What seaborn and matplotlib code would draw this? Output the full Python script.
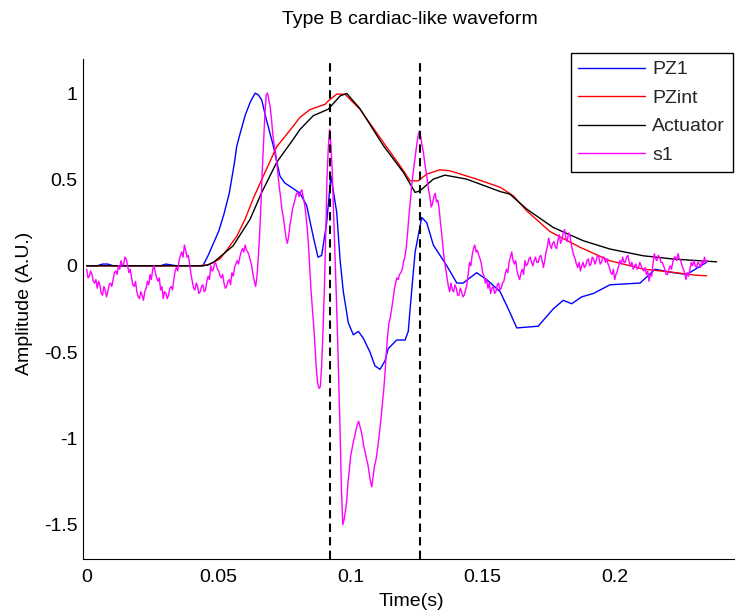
import numpy as np
import pandas as pd
import matplotlib
matplotlib.use("Agg")
import matplotlib.pyplot as plt
import seaborn as sns

# ---------------- data ----------------
pz1_t = [0.000, 0.004, 0.006, 0.008, 0.010, 0.020, 0.028, 0.030, 0.032, 0.034, 0.044,
         0.046, 0.048, 0.050, 0.052, 0.054, 0.056, 0.0568, 0.058, 0.060, 0.062, 0.0638,
         0.065, 0.0663, 0.068, 0.0706, 0.0732, 0.075, 0.077, 0.0808, 0.0833, 0.0858,
         0.0876, 0.089, 0.0909, 0.0925, 0.0947, 0.096, 0.0972, 0.0991, 0.101, 0.1029,
         0.1048, 0.1073, 0.1092, 0.1111, 0.113, 0.1142, 0.1174, 0.1206, 0.1218, 0.1225,
         0.1244, 0.1269, 0.1288, 0.1313, 0.1364, 0.1402, 0.1426, 0.1477, 0.1515, 0.1566,
         0.1603, 0.1629, 0.171, 0.1767, 0.1805, 0.1837, 0.1875, 0.192, 0.1982, 0.2096,
         0.2153, 0.2222, 0.2273, 0.2348]
pz1_v = [0.0, 0.0, 0.01, 0.01, 0.0, 0.0, 0.0, 0.01, 0.005, 0.0, 0.0,
         0.06, 0.13, 0.20, 0.30, 0.42, 0.60, 0.69, 0.76, 0.87, 0.95, 1.0,
         0.99, 0.96, 0.85, 0.70, 0.52, 0.48, 0.46, 0.42, 0.35, 0.17,
         0.05, 0.06, 0.25, 0.52, 0.31, 0.03, -0.15, -0.33, -0.40, -0.38,
         -0.42, -0.50, -0.58, -0.60, -0.55, -0.48, -0.43, -0.43, -0.38, -0.25,
         0.08, 0.28, 0.25, 0.12, 0.0, -0.10, -0.10, -0.04, -0.08, -0.15,
         -0.27, -0.36, -0.35, -0.25, -0.20, -0.22, -0.18, -0.16, -0.11, -0.10,
         -0.02, -0.04, -0.05, 0.02]

pzint_t = [0.000, 0.042, 0.0457, 0.048, 0.0505, 0.0535, 0.0568, 0.060, 0.0631, 0.0669,
           0.072, 0.0783, 0.0808, 0.0846, 0.0903, 0.0915, 0.0947, 0.0978, 0.1035, 0.1124,
           0.1187, 0.1225, 0.1256, 0.1288, 0.1338, 0.1376, 0.1477, 0.1566, 0.1616, 0.1667,
           0.1755, 0.1869, 0.1982, 0.2108, 0.2222, 0.2304, 0.2348]
pzint_v = [0.0, 0.0, 0.005, 0.02, 0.04, 0.10, 0.17, 0.27, 0.39, 0.52,
           0.69, 0.81, 0.86, 0.905, 0.935, 0.955, 0.994, 0.994, 0.907, 0.714,
           0.579, 0.492, 0.492, 0.531, 0.556, 0.55, 0.502, 0.455, 0.405, 0.318,
           0.198, 0.107, 0.029, -0.019, -0.038, -0.054, -0.058]

act_t = [0.000, 0.044, 0.046, 0.048, 0.0555, 0.0619, 0.0663, 0.072, 0.0783, 0.0808,
         0.0858, 0.0915, 0.096, 0.0985, 0.1035, 0.1124, 0.120, 0.1244, 0.1262, 0.1313,
         0.1357, 0.1439, 0.1566, 0.1603, 0.1667, 0.1767, 0.1881, 0.1982, 0.2108, 0.2222,
         0.2386]
act_v = [0.0, 0.0, 0.005, 0.02, 0.116, 0.27, 0.425, 0.60, 0.734, 0.79,
         0.869, 0.907, 0.984, 0.998, 0.91, 0.695, 0.54, 0.425, 0.434, 0.502,
         0.525, 0.502, 0.43, 0.415, 0.328, 0.222, 0.145, 0.097, 0.058, 0.039,
         0.023]

# s1 sampled every 0.5 ms from 0 to 0.235 s
s1_v = [-0.02, -0.07, -0.06, -0.03, -0.05, -0.09, -0.10, -0.08, -0.13, -0.09,
        -0.11, -0.16, -0.17, -0.12, -0.14, -0.18, -0.15, -0.11, -0.10, -0.12,
        -0.08, -0.04, -0.03, -0.05, 0.00, -0.02, 0.03, 0.00, 0.01, 0.05,
        0.04, 0.00, -0.04, -0.02, -0.07, -0.11, -0.12, -0.09, -0.15, -0.18,
        -0.19, -0.15, -0.17, -0.20, -0.15, -0.13, -0.09, -0.11, -0.05, -0.08,
        -0.02, 0.00, -0.04, -0.07, -0.09, -0.07, -0.14, -0.12, -0.19, -0.15,
        -0.16, -0.19, -0.17, -0.13, -0.12, -0.14, -0.08, -0.03, -0.01, -0.03,
        0.03, 0.06, 0.08, 0.05, 0.12, 0.09, 0.05, 0.06, 0.01, -0.05,
        -0.09, -0.13, -0.14, -0.10, -0.12, -0.16, -0.15, -0.12, -0.11, -0.15,
        -0.14, -0.09, -0.06, -0.08, 0.00, -0.03, -0.02, 0.02, 0.01, -0.02,
        -0.03, -0.06, -0.07, -0.05, -0.10, -0.13, -0.12, -0.09, -0.08, -0.11,
        -0.04, -0.06, -0.01, 0.01, 0.03, 0.01, 0.05, 0.08, 0.10, 0.08,
        0.12, 0.09, 0.08, 0.06, 0.03, 0.00, -0.05, -0.09, -0.12, -0.06,
        0.05, 0.18, 0.35, 0.55, 0.72, 0.88, 0.99, 1.00, 0.96, 0.92,
        0.85, 0.76, 0.70, 0.66, 0.60, 0.52, 0.45, 0.39, 0.32, 0.28,
        0.22, 0.16, 0.13, 0.17, 0.24, 0.28, 0.33, 0.36, 0.39, 0.42,
        0.42, 0.40, 0.43, 0.44, 0.40, 0.36, 0.30, 0.22, 0.12, -0.02,
        -0.15, -0.25, -0.35, -0.48, -0.60, -0.68, -0.71, -0.70, -0.58, -0.38,
        -0.15, 0.15, 0.50, 0.68, 0.79, 0.70, 0.55, 0.32, 0.10, -0.15,
        -0.40, -0.68, -0.97, -1.30, -1.50, -1.47, -1.42, -1.36, -1.25, -1.18,
        -1.10, -1.06, -1.02, -0.99, -0.95, -0.92, -0.90, -0.93, -0.96, -1.00,
        -1.05, -1.08, -1.12, -1.15, -1.20, -1.25, -1.28, -1.22, -1.16, -1.13,
        -1.08, -1.02, -0.95, -0.88, -0.80, -0.72, -0.62, -0.50, -0.40, -0.33,
        -0.30, -0.25, -0.20, -0.14, -0.10, -0.07, -0.08, -0.05, -0.04, -0.02,
        0.02, 0.05, 0.10, 0.18, 0.28, 0.36, 0.45, 0.52, 0.58, 0.64,
        0.70, 0.75, 0.78, 0.75, 0.70, 0.66, 0.60, 0.55, 0.50, 0.44,
        0.40, 0.34, 0.36, 0.40, 0.42, 0.37, 0.38, 0.33, 0.25, 0.18,
        0.10, 0.03, -0.02, -0.07, -0.12, -0.15, -0.10, -0.14, -0.15, -0.11,
        -0.13, -0.17, -0.17, -0.13, -0.15, -0.18, -0.17, -0.14, -0.11, -0.05,
        0.02, 0.00, 0.06, 0.10, 0.12, 0.08, 0.09, 0.06, 0.04, 0.01,
        -0.04, -0.06, -0.10, -0.08, -0.13, -0.10, -0.16, -0.13, -0.12, -0.16,
        -0.15, -0.11, -0.10, -0.14, -0.13, -0.10, -0.09, -0.05, -0.02, -0.04,
        0.02, 0.05, 0.08, 0.03, 0.01, 0.03, -0.03, -0.06, -0.08, -0.04,
        -0.02, -0.05, 0.03, 0.00, 0.01, 0.04, 0.05, 0.02, 0.00, 0.03,
        0.05, 0.02, 0.02, 0.05, 0.06, 0.03, -0.01, 0.03, 0.08, 0.11,
        0.16, 0.12, 0.10, 0.13, 0.14, 0.11, 0.10, 0.15, 0.18, 0.13,
        0.15, 0.19, 0.21, 0.16, 0.14, 0.19, 0.18, 0.13, 0.09, 0.06,
        0.04, 0.01, -0.01, 0.02, -0.03, 0.00, 0.02, -0.01, 0.00, 0.03,
        0.04, 0.00, 0.01, 0.05, 0.04, 0.01, 0.03, 0.06, 0.05, 0.01,
        0.02, 0.05, 0.05, 0.02, 0.04, 0.01, -0.01, -0.04, -0.05, -0.02,
        -0.08, -0.05, -0.03, 0.00, 0.03, 0.01, 0.05, 0.02, 0.02, 0.05,
        0.06, 0.02, 0.00, 0.02, -0.02, 0.00, 0.01, -0.02, -0.01, 0.02,
        0.00, -0.02, -0.03, -0.01, -0.05, -0.03, -0.09, -0.05, -0.06, 0.01,
        0.07, 0.04, 0.03, 0.06, 0.05, 0.02, 0.02, 0.00, -0.02, -0.05,
        -0.05, -0.02, 0.00, -0.02, 0.02, 0.05, 0.05, 0.03, 0.07, 0.04,
        0.03, 0.00, -0.02, -0.04, -0.08, -0.04, -0.06, -0.02, 0.02, 0.00,
        0.03, 0.00, -0.01, 0.02, 0.01, -0.01, 0.03, 0.01, 0.05, 0.02,
        0.03]
s1_t = np.arange(len(s1_v)) * 0.0005

markers_t = [0.092, 0.1264]

series_names = ["PZ1", "PZint", "Actuator", "s1"]
series_colors = ["#0000ff", "#ff0000", "#000000", "#ff00ff"]

xticks = [0, 0.05, 0.1, 0.15, 0.2]
xtick_labels = ["0", "0.05", "0.1", "0.15", "0.2"]
yticks = [-1.5, -1, -0.5, 0, 0.5, 1]
ytick_labels = ["-1.5", "-1", "-0.5", "0", "0.5", "1"]

# ---------------- plot ----------------
sns.set_theme(style="white")
plt.rcParams["font.family"] = ["Liberation Sans", "DejaVu Sans"]

W, H = 735, 616
fig = plt.figure(figsize=(W / 100, H / 100), dpi=100)
left_px, right_px, top_px, bot_px = 83, 738, 58.6, 559.3
ax = fig.add_axes([left_px / W, 1 - bot_px / H, (right_px - left_px) / W, (bot_px - top_px) / H])

frames = [
    pd.DataFrame({"t": pz1_t, "v": pz1_v, "s": "PZ1"}),
    pd.DataFrame({"t": pzint_t, "v": pzint_v, "s": "PZint"}),
    pd.DataFrame({"t": act_t, "v": act_v, "s": "Actuator"}),
    pd.DataFrame({"t": s1_t, "v": s1_v, "s": "s1"}),
]
for df, name, col in zip(frames, series_names, series_colors):
    sns.lineplot(data=df, x="t", y="v", ax=ax, color=col, lw=1.0, label=name,
                 estimator=None, sort=False)

for mt in markers_t:
    ax.axvline(mt, color="black", lw=1.5, linestyle=(0, (4, 2.5)))

ax.set_xlim(-0.0014, 0.2467)
ax.set_ylim(-1.7, 1.2)
ax.set_xticks(xticks)
ax.set_xticklabels(xtick_labels)
ax.set_yticks(yticks)
ax.set_yticklabels(ytick_labels)
ax.tick_params(direction="in", length=6, width=0.8, labelsize=14, pad=4, colors="black")
ax.tick_params(axis="x", pad=7)

for side in ["top", "right"]:
    ax.spines[side].set_visible(False)
for side in ["left", "bottom"]:
    ax.spines[side].set_color("black")
    ax.spines[side].set_linewidth(0.8)

ax.set_xlabel("Time(s)", fontsize=14, color="black")
ax.set_ylabel("Amplitude (A.U.)", fontsize=14, color="black")
ax.xaxis.set_label_coords((411 - left_px) / (right_px - left_px), (bot_px - 593) / (bot_px - top_px))
ax.yaxis.set_label_coords((33 - left_px) / (right_px - left_px), (bot_px - 303.5) / (bot_px - top_px))

fig.text(410 / W, 1 - 20 / H, "Type B cardiac-like waveform", ha="center", va="center",
         fontsize=14, color="black")

leg = ax.legend(loc="upper right", bbox_to_anchor=(733 / W, 1 - 53 / H),
                bbox_transform=fig.transFigure, borderaxespad=0, fontsize=14,
                frameon=True, fancybox=False, edgecolor="black", framealpha=1,
                handlelength=3.4, handletextpad=0.4, labelspacing=0.56, borderpad=0.4)
leg.get_frame().set_linewidth(1.0)

fig.savefig("out.png", dpi=100)
